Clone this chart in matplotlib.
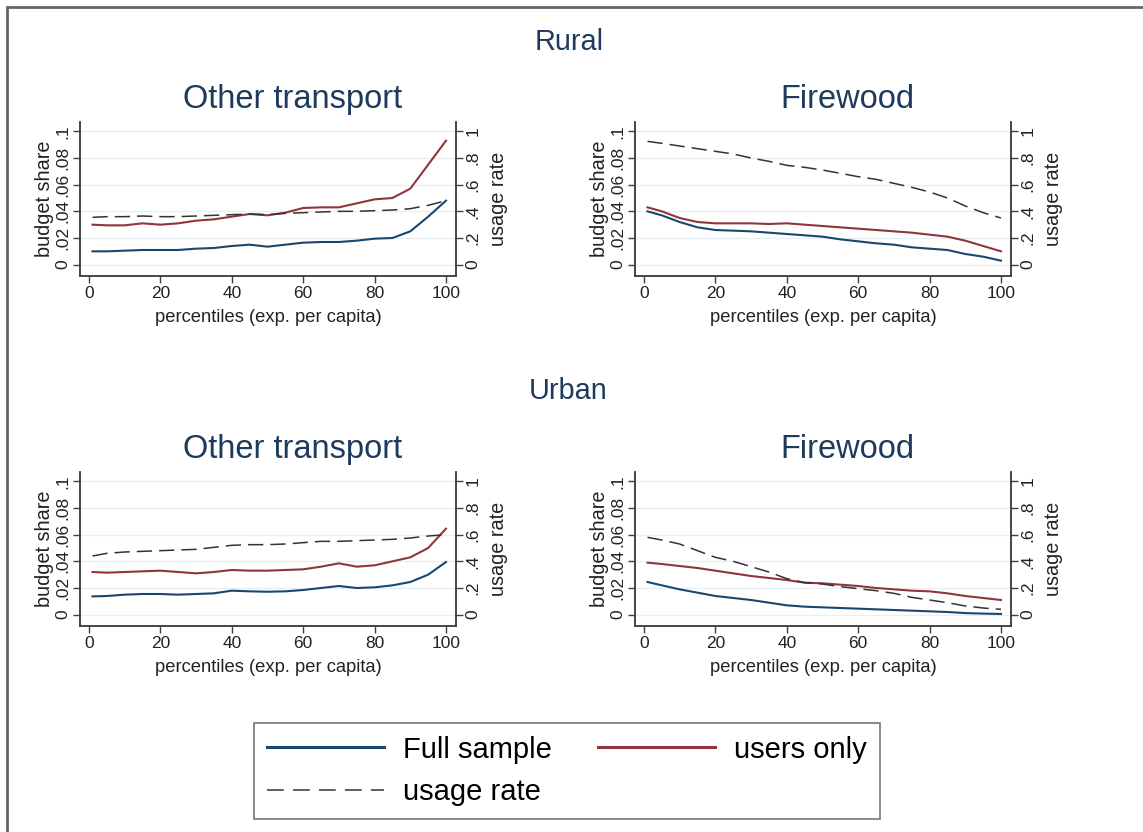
import numpy as np
import matplotlib.pyplot as plt
from matplotlib.lines import Line2D
from matplotlib.patches import Rectangle

plt.rcParams['font.family'] = ['Liberation Sans', 'DejaVu Sans']

pct = [1, 5, 10, 15, 20, 25, 30, 35, 40, 45, 50, 55, 60, 65, 70, 75, 80, 85, 90, 95, 100]

# Rural - other transport
rural_transport_full = [0.010, 0.010, 0.0105, 0.011, 0.011, 0.011, 0.012, 0.0125, 0.014, 0.015, 0.0135,
                        0.015, 0.0165, 0.017, 0.017, 0.018, 0.0195, 0.020, 0.025, 0.036, 0.048]
rural_transport_users = [0.030, 0.0295, 0.0295, 0.031, 0.030, 0.031, 0.033, 0.034, 0.036, 0.038, 0.037,
                         0.039, 0.0425, 0.043, 0.043, 0.046, 0.049, 0.050, 0.057, 0.075, 0.093]
rural_transport_usage = [0.355, 0.36, 0.36, 0.365, 0.36, 0.36, 0.365, 0.37, 0.375, 0.38, 0.375,
                         0.385, 0.39, 0.395, 0.40, 0.40, 0.405, 0.41, 0.42, 0.445, 0.48]

# Rural - firewood
rural_fire_full = [0.040, 0.037, 0.032, 0.028, 0.026, 0.0255, 0.025, 0.024, 0.023, 0.022, 0.021,
                   0.019, 0.0175, 0.016, 0.015, 0.013, 0.012, 0.011, 0.008, 0.006, 0.003]
rural_fire_users = [0.043, 0.040, 0.035, 0.032, 0.031, 0.031, 0.031, 0.0305, 0.031, 0.030, 0.029,
                    0.028, 0.027, 0.026, 0.025, 0.024, 0.0225, 0.021, 0.018, 0.014, 0.010]
rural_fire_usage = [0.925, 0.91, 0.89, 0.87, 0.85, 0.83, 0.80, 0.775, 0.745, 0.73, 0.71,
                    0.685, 0.66, 0.64, 0.61, 0.58, 0.545, 0.50, 0.44, 0.39, 0.35]

# Urban - other transport
urban_transport_full = [0.0137, 0.014, 0.015, 0.0155, 0.0155, 0.015, 0.0155, 0.016, 0.018, 0.0175, 0.0172,
                        0.0175, 0.0185, 0.020, 0.0215, 0.020, 0.0205, 0.022, 0.0245, 0.030, 0.0395]
urban_transport_users = [0.032, 0.0315, 0.032, 0.0325, 0.033, 0.032, 0.031, 0.032, 0.0335, 0.033, 0.033,
                         0.0335, 0.034, 0.036, 0.0385, 0.036, 0.037, 0.040, 0.043, 0.050, 0.0645]
urban_transport_usage = [0.44, 0.46, 0.47, 0.475, 0.48, 0.485, 0.49, 0.505, 0.52, 0.525, 0.525,
                         0.53, 0.54, 0.55, 0.55, 0.555, 0.56, 0.565, 0.575, 0.59, 0.60]

# Urban - firewood
urban_fire_full = [0.0245, 0.022, 0.019, 0.0165, 0.014, 0.0125, 0.011, 0.009, 0.007, 0.006, 0.0055,
                   0.005, 0.0045, 0.004, 0.0035, 0.003, 0.0025, 0.002, 0.0012, 0.0008, 0.0005]
urban_fire_users = [0.039, 0.038, 0.0365, 0.035, 0.033, 0.031, 0.029, 0.0275, 0.026, 0.024, 0.0235,
                    0.0225, 0.0215, 0.020, 0.019, 0.018, 0.0175, 0.016, 0.014, 0.0125, 0.011]
urban_fire_usage = [0.58, 0.56, 0.53, 0.48, 0.43, 0.40, 0.36, 0.32, 0.27, 0.24, 0.23,
                    0.21, 0.195, 0.18, 0.16, 0.13, 0.11, 0.09, 0.065, 0.05, 0.04]

left_ticks = [0, 0.02, 0.04, 0.06, 0.08, 0.1]
left_labels = ['0', '.02', '.04', '.06', '.08', '.1']
right_ticks = [0, 0.2, 0.4, 0.6, 0.8, 1]
right_labels = ['0', '.2', '.4', '.6', '.8', '1']
x_ticks = [0, 20, 40, 60, 80, 100]

BLUE = '#1a476f'
RED = '#90353b'
TITLE_COL = '#1e3a5c'
SPINE = '#404040'
DASH = (10, 4.6)


def draw_panel(ax, title, full, users, usage):
    ax.set_facecolor('white')
    for y in left_ticks:
        ax.axhline(y, color='#e8eff2', lw=0.9, zorder=0)
    ax.plot(pct, full, color=BLUE, lw=1.5, zorder=3)
    ax.plot(pct, users, color=RED, lw=1.5, zorder=3)
    ax.set_xlim(-2.5, 102.8)
    ax.set_ylim(-0.0085, 0.107)
    ax.set_xticks(x_ticks)
    ax.set_yticks(left_ticks)
    ax.set_yticklabels(left_labels, rotation=90, va='center')
    ax.set_xlabel('percentiles (exp. per capita)', fontsize=13.2, labelpad=6, color='#222222')
    ax.set_ylabel('budget share', fontsize=14.3, labelpad=1, color='#222222')
    ax.tick_params(labelsize=12.5, length=5, width=1, color=SPINE, labelcolor='#222222', pad=2)
    ax.spines['top'].set_visible(False)
    for s in ['left', 'bottom', 'right']:
        ax.spines[s].set_color(SPINE)
        ax.spines[s].set_linewidth(1.1)
    ax.set_title(title, fontsize=23.5, color=TITLE_COL, pad=10, x=0.564)

    ax2 = ax.twinx()
    ax2.plot(pct, usage, color='#333333', lw=1.1, dashes=DASH, zorder=3)
    ax2.set_ylim(-0.085, 1.07)
    ax2.set_yticks(right_ticks)
    ax2.set_yticklabels(right_labels, rotation=90, va='center')
    ax2.set_ylabel('usage rate', fontsize=14.3, labelpad=6, color='#222222')
    ax2.tick_params(labelsize=12.5, length=5, width=1, color=SPINE, labelcolor='#222222', pad=2)
    ax2.spines['top'].set_visible(False)
    for s in ['left', 'bottom', 'right']:
        ax2.spines[s].set_color(SPINE)
        ax2.spines[s].set_linewidth(1.1)


fig = plt.figure(figsize=(11.43, 8.32), dpi=100)
fig.patch.set_facecolor('white')

W, H = 1143, 832
def rect(l, t, r, b):
    return [l / W, 1 - b / H, (r - l) / W, (b - t) / H]

ax_rt = fig.add_axes(rect(80, 122, 456, 276))
ax_rf = fig.add_axes(rect(635, 122, 1011, 276))
ax_ut = fig.add_axes(rect(80, 472, 456, 626))
ax_uf = fig.add_axes(rect(635, 472, 1011, 626))

draw_panel(ax_rt, 'Other transport', rural_transport_full, rural_transport_users, rural_transport_usage)
draw_panel(ax_rf, 'Firewood', rural_fire_full, rural_fire_users, rural_fire_usage)
draw_panel(ax_ut, 'Other transport', urban_transport_full, urban_transport_users, urban_transport_usage)
draw_panel(ax_uf, 'Firewood', urban_fire_full, urban_fire_users, urban_fire_usage)

fig.text(569 / W, 1 - 42 / H, 'Rural', fontsize=20.8, color=TITLE_COL, ha='center', va='center')
fig.text(568 / W, 1 - 391 / H, 'Urban', fontsize=20.8, color=TITLE_COL, ha='center', va='center')

# outer frame (only left/top edges fall inside the image)
fig.patches.append(Rectangle((7 / W, -0.05), 1.2, 1 - 7 / H + 0.05, transform=fig.transFigure,
                             fill=False, edgecolor='#666666', lw=2))

handles = [Line2D([], [], color=BLUE, lw=2.2),
           Line2D([], [], color='#333333', lw=1.1, dashes=(11, 6)),
           Line2D([], [], color=RED, lw=2.2)]
labels = ['Full sample', 'usage rate', 'users only']
leg = fig.legend(handles, labels, ncol=2, loc='center',
                 bbox_to_anchor=(567 / W, 1 - 771 / H), fontsize=21, frameon=True,
                 fancybox=False, edgecolor='#555555', handlelength=4.0, handletextpad=0.65,
                 columnspacing=1.6, borderpad=0.45, labelspacing=0.5, borderaxespad=0)
leg.get_frame().set_linewidth(1.2)

fig.savefig('out.png', dpi=100)
